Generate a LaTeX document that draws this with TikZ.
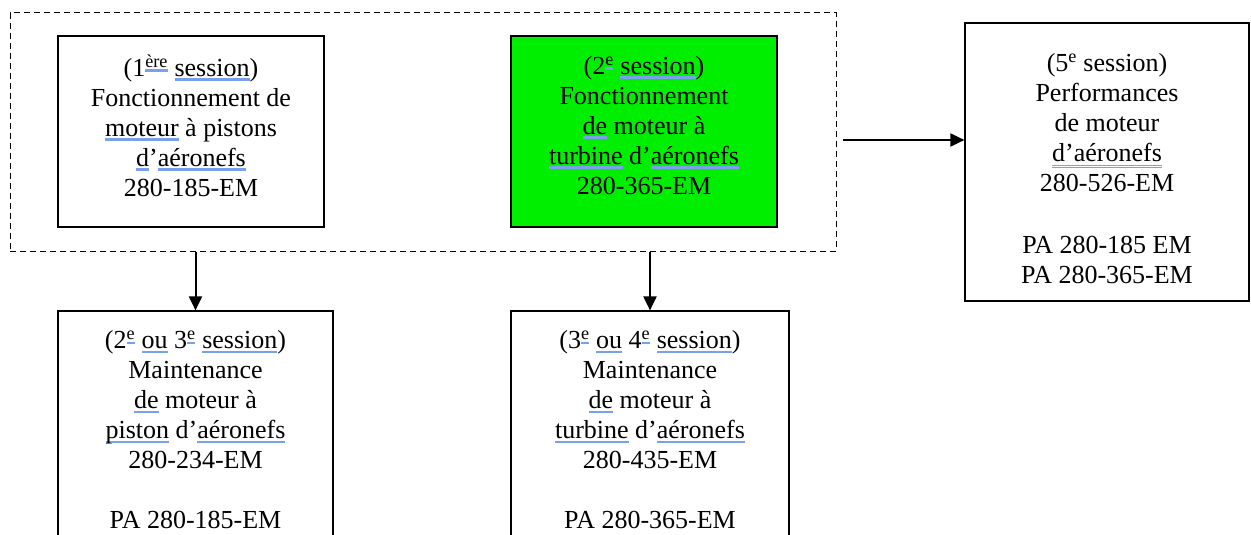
\documentclass[tikz,border=0pt]{standalone}
\usepackage{fontspec}
\setmainfont{Liberation Serif}
\usetikzlibrary{arrows.meta}
\definecolor{sqblue}{RGB}{120,160,235}
\definecolor{boxgreen}{RGB}{0,238,0}
\newcommand\sq[1]{\setbox0=\hbox{#1}\leavevmode\rlap{\textcolor{sqblue}{\rule[-4.5pt]{\wd0}{2.5pt}}}\box0\relax}
\newcommand\sqq[1]{\setbox0=\hbox{#1}\leavevmode\rlap{\textcolor{sqblue}{\rule[-4pt]{\wd0}{1.2pt}}}\rlap{\textcolor{sqblue}{\rule[-6.5pt]{\wd0}{1.2pt}}}\box0\relax}
\newcommand\myexp[1]{\textsuperscript{#1}}
\begin{document}
\begin{tikzpicture}[x=1pt,y=-1pt,
  font=\fontsize{26}{30}\selectfont,
  box/.style={draw, line width=1.2pt, align=center, inner sep=0pt},
  txt/.style={align=center, inner sep=0pt},
  arr/.style={line width=2pt, -{Triangle[length=14pt,width=13pt]}}]
\clip (0,0) rectangle (1251,535);
\fill[white] (0,0) rectangle (1251,535);
\node[draw, dash pattern=on 6pt off 4pt, line width=1pt, minimum width=826pt, minimum height=238pt, inner sep=0pt] (grp) at (423,132) {};
\node[box, minimum width=266pt, minimum height=191pt] (b1) at (191,131.5) {};
\node[txt] (t1) at (191,125.5)
  {(1\myexp{\sq{ère}} \sq{session})\\ Fonctionnement de\\ \sq{moteur} à pistons\\ \sq{d}’\sq{aéronefs}\\ 280-185-EM};
\node[box, fill=boxgreen, minimum width=266pt, minimum height=191pt] (b2) at (644,131.5) {};
\node[txt] (t2) at (644,125.5)
  {(2\myexp{\sq{e}} \sq{session})\\ Fonctionnement\\ \sq{de} moteur à\\ \sq{turbine} d’\sq{aéronefs}\\ 280-365-EM};
\node[box, minimum width=284pt, minimum height=278pt] (b5) at (1107,162) {};
\node[txt] (t5) at (1107,169)
  {(5\myexp{e} session)\\ Performances\\ de moteur\\ \sqq{d’aéronefs}\\ 280-526-EM\\[32pt] PA 280-185 EM\\ PA 280-365-EM};
\node[box, minimum width=275pt, minimum height=238pt] (b3) at (195.5,430)
  {(2\myexp{\sq{e}} \sq{ou} 3\myexp{\sq{e}} \sq{session})\\ Maintenance\\ \sq{de} moteur à\\ \sq{piston} d’\sq{aéronefs}\\ 280-234-EM\\[30pt] PA 280-185-EM};
\node[box, minimum width=278pt, minimum height=238pt] (b4) at (650,430)
  {(3\myexp{\sq{e}} \sq{ou} 4\myexp{\sq{e}} \sq{session})\\ Maintenance\\ \sq{de} moteur à\\ \sq{turbine} d’\sq{aéronefs}\\ 280-435-EM\\[30pt] PA 280-365-EM};
\coordinate (a5) at (843,140);
\draw[arr] (grp.south -| b3.north) -- (b3.north);
\draw[arr] (grp.south -| b4.north) -- (b4.north);
\draw[arr] (a5) -- (b5.west |- a5);
\end{tikzpicture}
\end{document}
